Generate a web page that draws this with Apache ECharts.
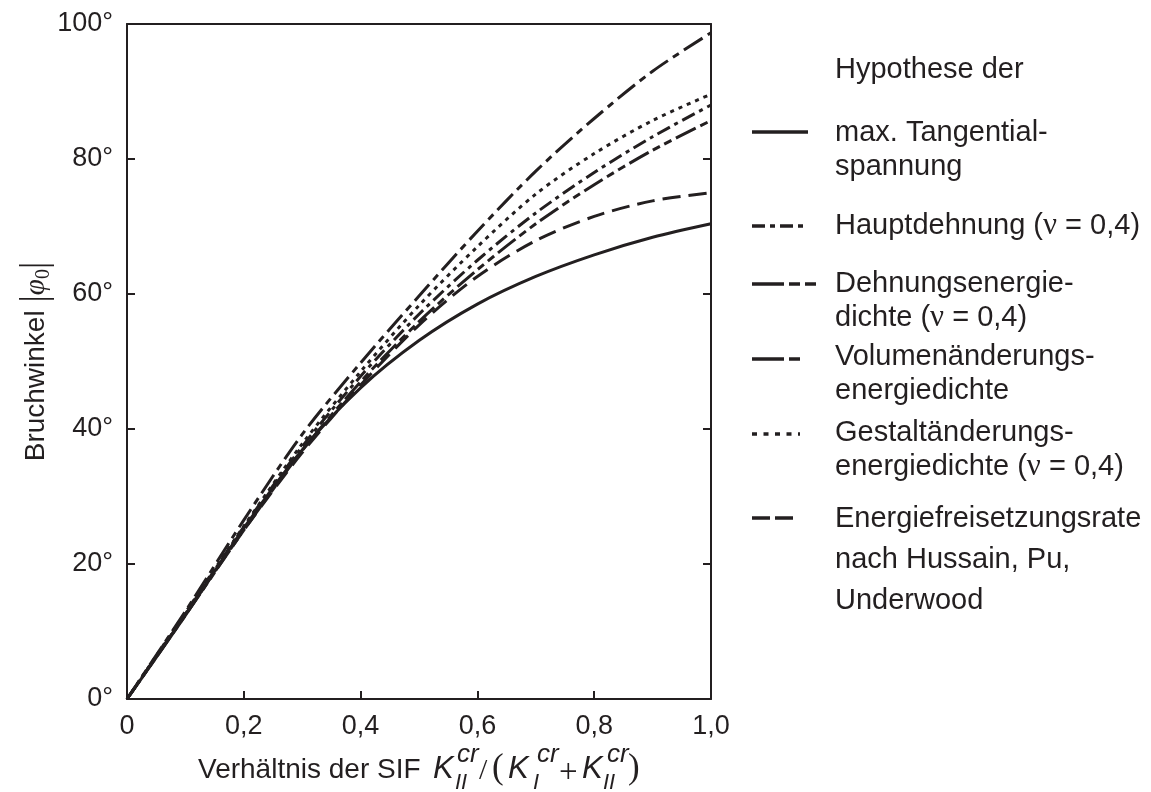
<!DOCTYPE html>
<html>
<head>
<meta charset="utf-8">
<script src="https://cdn.jsdelivr.net/npm/echarts@6/dist/echarts.min.js"></script>
<style>
  html, body { margin: 0; padding: 0; background: #fff; }
  #chart { width: 1151px; height: 792px; }
</style>
</head>
<body>
<div id="chart"></div>
<script>
// Verhältnis K_II / (K_I + K_II)
const ratio = [0, 0.1, 0.2, 0.3, 0.4, 0.5, 0.6, 0.7, 0.8, 0.9, 1.0];
// Bruchwinkel in Grad
const tangential = [0, 12.4, 25.3, 36.9, 46.1, 53.1, 58.5, 62.6, 65.8, 68.4, 70.4];
const hauptdehnung = [0, 12.6, 25.5, 37.4, 47.8, 57.0, 65.0, 72.0, 78.0, 83.3, 88.0];
const dehnungsenergie = [0, 12.4, 25.0, 36.8, 47.0, 55.9, 63.6, 70.4, 76.2, 81.3, 85.7];
const volumen = [0, 13.0, 26.5, 39.2, 49.8, 59.7, 69.3, 78.2, 86.0, 93.0, 98.7];
const gestalt = [0, 12.8, 25.6, 37.8, 48.5, 58.3, 67.0, 74.8, 80.8, 85.7, 89.6];
const energie = [0, 12.5, 25.0, 36.5, 46.5, 55.4, 62.6, 67.9, 71.5, 73.8, 75.0];

const xTicks = ['0', '0,2', '0,4', '0,6', '0,8', '1,0'];

const ink = '#231f20';
const sans = '"Liberation Sans", Arial, sans-serif';
const serif = '"Liberation Serif", "Times New Roman", serif';

const pairs = (ys) => ratio.map((x, i) => [x, ys[i]]);

const mkSeries = (name, ys, dash) => ({
  type: 'line',
  name: name,
  data: pairs(ys),
  smooth: 0.3,
  showSymbol: false,
  silent: true,
  animation: false,
  lineStyle: { color: ink, width: 3, type: dash, cap: 'butt' },
});

const chart = echarts.init(document.getElementById('chart'), null, { renderer: 'canvas' });

// Legende rechts
const legendX1 = 752;
const textX = 835;
const legendItems = [
  { y: 132, x2: 808, dash: null },
  { y: 226, x2: 804, dash: [13, 5, 5, 5] },
  { y: 284, x2: 816, dash: [32, 5, 11, 5, 11, 5] },
  { y: 359, x2: 800, dash: [32, 5, 11, 5] },
  { y: 434, x2: 800, dash: [5, 6.5] },
  { y: 518, x2: 795, dash: [18, 5] },
];
const legendText = [
  ['Hypothese der', 70],
  ['max. Tangential-', 133],
  ['spannung', 167],
  ['{a|Hauptdehnung (}{n|ν}{a| = 0,4)}', 226],
  ['Dehnungsenergie-', 284],
  ['{a|dichte (}{n|ν}{a| = 0,4)}', 318],
  ['Volumenänderungs-', 357],
  ['energiedichte', 391],
  ['Gestaltänderungs-', 433],
  ['{a|energiedichte (}{n|ν}{a| = 0,4)}', 467],
  ['Energiefreisetzungsrate', 519],
  ['nach Hussain, Pu,', 560],
  ['Underwood', 601],
];

const graphic = [];
legendItems.forEach((it) => {
  graphic.push({
    type: 'line',
    silent: true,
    shape: { x1: legendX1, y1: it.y, x2: it.x2, y2: it.y },
    style: { stroke: ink, lineWidth: 3.5, lineDash: it.dash, lineCap: 'butt' },
  });
});
legendText.forEach(([txt, y]) => {
  graphic.push({
    type: 'text',
    silent: true,
    x: textX,
    y: y,
    style: {
      text: txt,
      font: '29px ' + sans,
      fill: ink,
      verticalAlign: 'middle',
      rich: {
        a: { font: '29px ' + sans, fill: ink },
        n: { font: '31px ' + serif, fill: ink },
      },
    },
  });
});

// x-Achsentitel mit Formel (Mitte der Zeichen)
const xTitle = [
  ['Verhältnis der SIF', 198, 770, '28px ' + sans],
  ['K', 433, 769, 'italic 31px ' + sans],
  ['II', 455, 783, 'italic 22px ' + sans],
  ['cr', 457, 755, 'italic 26px ' + sans],
  ['/', 479, 771, '30px ' + serif],
  ['(', 492, 769, '35px ' + serif],
  ['K', 508, 769, 'italic 31px ' + sans],
  ['I', 533, 783, 'italic 22px ' + sans],
  ['cr', 537, 755, 'italic 26px ' + sans],
  ['+', 559, 773, '33px ' + serif],
  ['K', 582, 769, 'italic 31px ' + sans],
  ['II', 603, 783, 'italic 22px ' + sans],
  ['cr', 607, 755, 'italic 26px ' + sans],
  [')', 628, 769, '35px ' + serif],
];
xTitle.forEach(([t, x, y, f]) => {
  graphic.push({
    type: 'text',
    silent: true,
    x: x,
    y: y,
    style: { text: t, font: f, fill: ink, verticalAlign: 'middle', align: 'left' },
  });
});

const frameAxisLine = { show: true, onZero: false, lineStyle: { color: ink, width: 2 } };
const innerTick = { show: true, inside: true, length: 8, lineStyle: { color: ink, width: 2 } };

const option = {
  backgroundColor: '#fff',
  animation: false,
  grid: { left: 127, right: 440, top: 24, bottom: 93 },
  xAxis: [
    {
      type: 'value',
      min: 0,
      max: 1,
      interval: 0.2,
      axisLine: frameAxisLine,
      axisTick: innerTick,
      axisLabel: {
        color: ink,
        fontSize: 27,
        fontFamily: sans,
        margin: 14,
        formatter: (v) => xTicks[Math.round(v / 0.2)],
      },
      splitLine: { show: false },
    },
    {
      type: 'value',
      position: 'top',
      min: 0,
      max: 1,
      interval: 0.2,
      axisLine: frameAxisLine,
      axisTick: { show: false },
      axisLabel: { show: false },
      splitLine: { show: false },
    },
  ],
  yAxis: [
    {
      type: 'value',
      min: 0,
      max: 100,
      interval: 20,
      axisLine: frameAxisLine,
      axisTick: innerTick,
      axisLabel: {
        color: ink,
        fontSize: 27,
        fontFamily: sans,
        margin: 14,
        formatter: '{value}°',
      },
      splitLine: { show: false },
      name: '{a|Bruchwinkel }{b||}{p|φ}{s|0}{b||}',
      nameLocation: 'middle',
      nameRotate: 90,
      nameGap: 72,
      nameMoveOverlap: false,
      nameTextStyle: {
        color: ink,
        rich: {
          a: { fontSize: 28, fontFamily: sans, color: ink },
          b: { fontSize: 37, fontFamily: serif, color: ink },
          p: { fontSize: 29, fontFamily: serif, fontStyle: 'italic', color: ink },
          s: { fontSize: 20, fontFamily: serif, color: ink, padding: [14, 0, 0, 0] },
        },
      },
    },
    {
      type: 'value',
      position: 'right',
      min: 0,
      max: 100,
      interval: 20,
      axisLine: frameAxisLine,
      axisTick: innerTick,
      axisLabel: { show: false },
      splitLine: { show: false },
    },
  ],
  series: [
    mkSeries('max. Tangentialspannung', tangential, 'solid'),
    mkSeries('Hauptdehnung', hauptdehnung, [14, 5, 4, 5]),
    mkSeries('Dehnungsenergiedichte', dehnungsenergie, [22, 5, 8, 5, 8, 5]),
    mkSeries('Volumenänderungsenergiedichte', volumen, [22, 6, 7, 6]),
    mkSeries('Gestaltänderungsenergiedichte', gestalt, [4, 5]),
    mkSeries('Energiefreisetzungsrate', energie, [18, 8]),
  ],
  graphic: graphic,
};

chart.setOption(option);
</script>
</body>
</html>
